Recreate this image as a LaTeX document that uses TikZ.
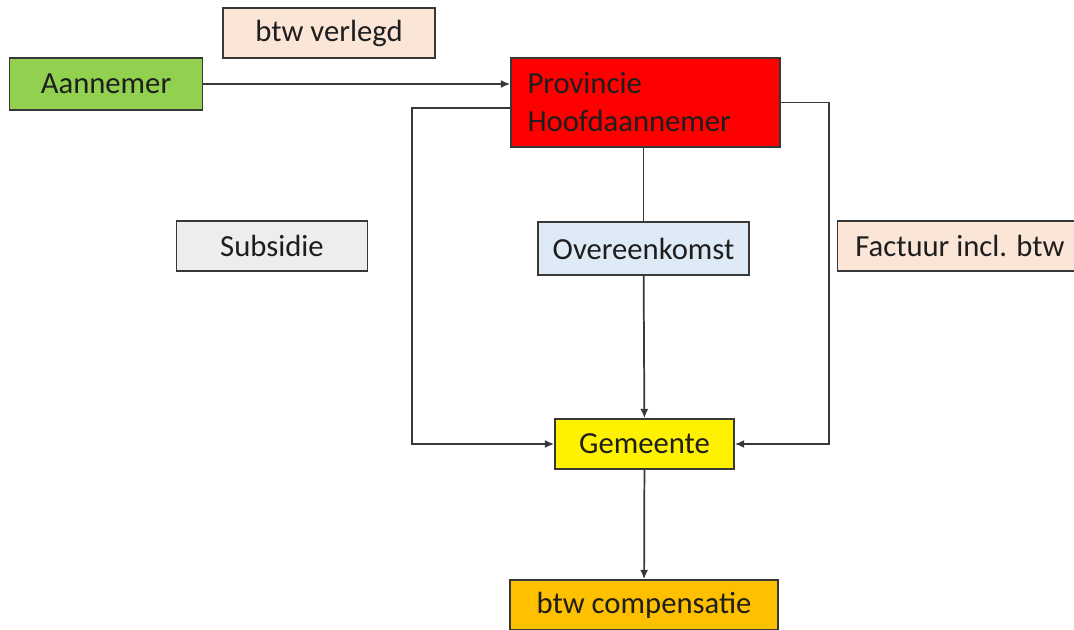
\documentclass[tikz,border=0pt]{standalone}
\usepackage{fontspec}
\setmainfont{Carlito}
\usetikzlibrary{arrows.meta}
\definecolor{peach}{HTML}{FBE5D6}
\definecolor{lgreen}{HTML}{92D050}
\definecolor{lgray}{HTML}{EDEDED}
\definecolor{lblue}{HTML}{DEEBF7}
\definecolor{orange}{HTML}{FFC000}
\definecolor{line}{HTML}{383838}
\definecolor{txt}{HTML}{1E1E1E}
\begin{document}
\begin{tikzpicture}[x=0.75pt, y=-0.75pt,
    box/.style={draw=line, line width=1.2pt, inner sep=0pt, text=txt,
        font=\fontsize{23}{28.5}\selectfont},
    conn/.style={draw=line, line width=1.3pt},
    arr/.style={conn, -{Latex[length=7pt,width=6pt]}}]
    \useasboundingbox (0,0) rectangle (1074,630);
    \clip (0,0) rectangle (1074,630);
    \fill[white] (0,0) rectangle (1074,630);
    \node[box, fill=peach, minimum width=159pt, minimum height=37.5pt] (verlegd) at (329,33) {btw verlegd};
    \node[box, fill=lgreen, minimum width=144.75pt, minimum height=39pt] (aannemer) at (106,84) {Aannemer};
    \node[box, fill=red, minimum width=201.75pt, minimum height=66.75pt, text width=177pt, align=left, inner xsep=12pt] (provincie) at (645.5,102.5) {Provincie\\Hoofdaannemer};
    \node[box, fill=lgray, minimum width=143.25pt, minimum height=37.5pt] (subsidie) at (272,246) {Subsidie};
    \node[box, fill=lblue, minimum width=158.25pt, minimum height=39.75pt] (overeenkomst) at (643.5,248.5) {Overeenkomst};
    \node[box, fill=peach, minimum width=183.75pt, minimum height=37.5pt] (factuur) at (960,246) {Factuur incl. btw};
    \node[box, fill=yellow, minimum width=134.25pt, minimum height=37.5pt] (gemeente) at (644.5,444) {Gemeente};
    \node[box, fill=orange, minimum width=201pt, minimum height=37.5pt] (compensatie) at (644,605) {btw compensatie};
    % verbindingen
    \draw[arr] (aannemer.east) -- (aannemer.east -| provincie.west);
    \draw[arr] ([yshift=-4pt]provincie.west) -- ++(-98,0) |- (gemeente.west);
    \draw[arr] (provincie.east) -- ++(48,0) |- (gemeente.east);
    \draw[conn] (provincie.south -| overeenkomst.north) -- (overeenkomst.north);
    \draw[arr] (overeenkomst) -- (gemeente);
    \draw[arr] (gemeente) -- (compensatie);
\end{tikzpicture}
\end{document}
